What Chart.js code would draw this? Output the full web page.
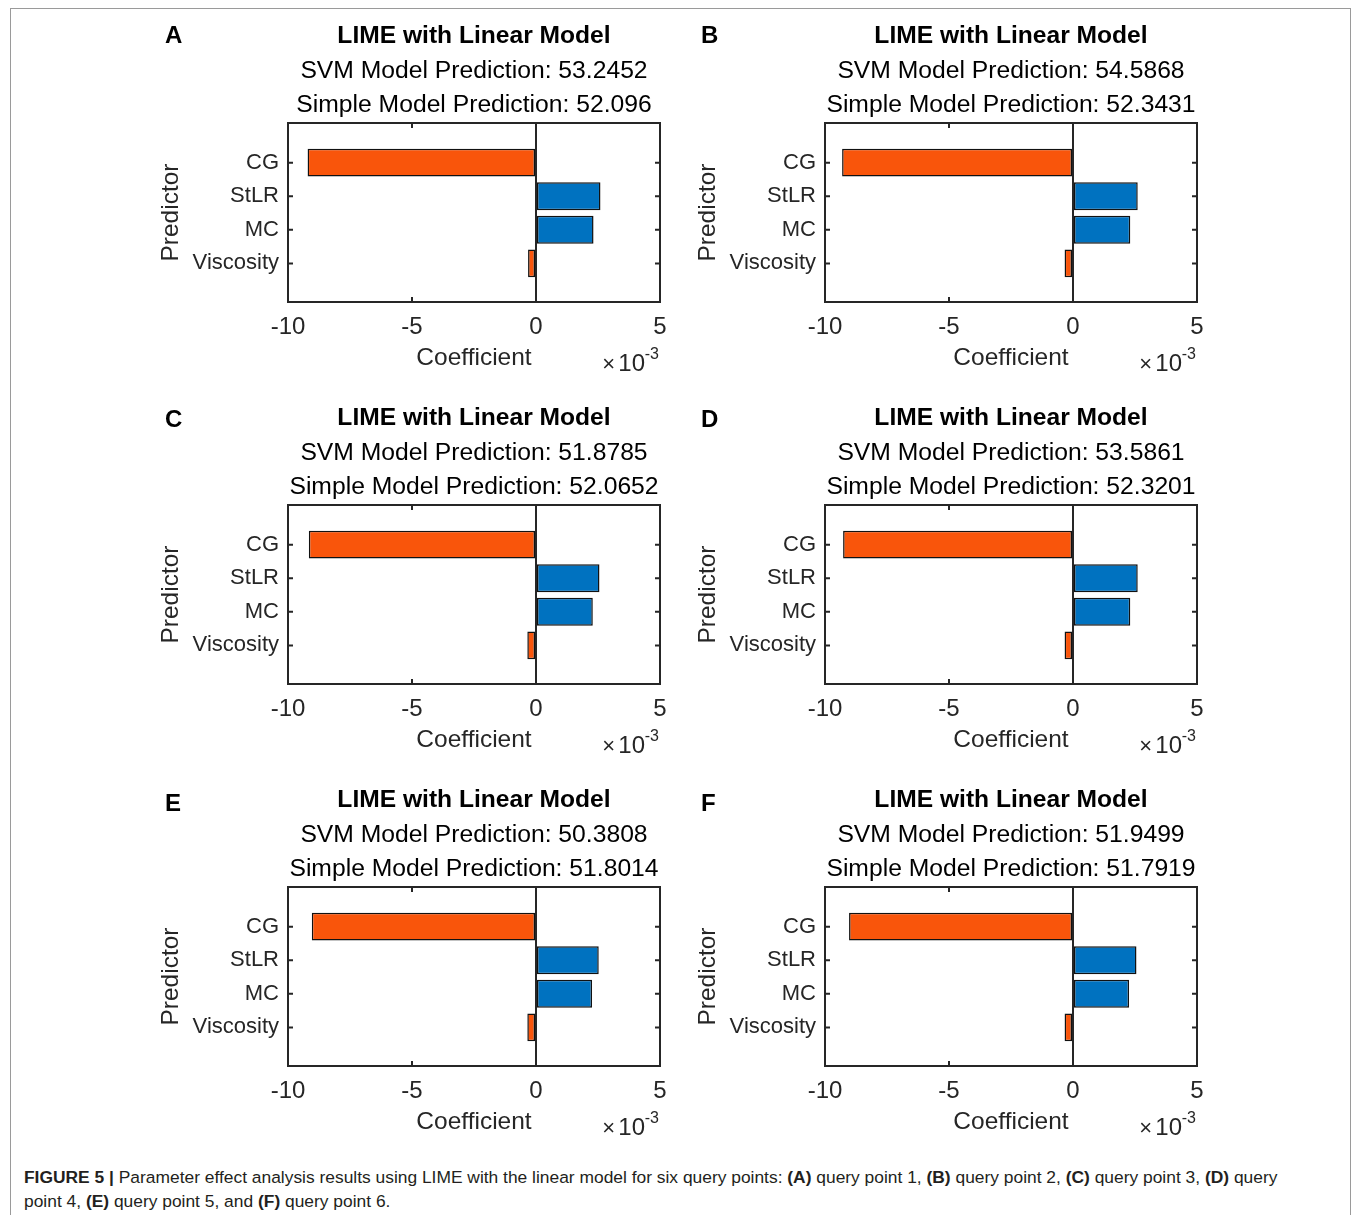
<!DOCTYPE html>
<html>
<head>
<meta charset="utf-8">
<script src="https://cdn.jsdelivr.net/npm/chart.js@4/dist/chart.umd.min.js"></script>
<style>
  body { margin: 0; background: #fff; width: 1356px; height: 1215px; position: relative; overflow: hidden; }
  #frame { position: absolute; left: 10px; top: 8px; width: 1341px; height: 1230px; border: 1px solid #9a9a9a; box-sizing: border-box; }
  .panel { position: absolute; width: 540px; height: 380px; }
  .letter { position: absolute; font: bold 24px 'Liberation Sans', Arial, sans-serif; color: #000; }
  #caption { position: absolute; left: 24px; top: 1165px; width: 1320px; font: 17.4px 'Liberation Sans', Arial, sans-serif; line-height: 24px; color: #231f20; }
</style>
</head>
<body>
<div id="frame"></div>
<div id="panels"></div>
<div id="caption"><b>FIGURE 5 |</b> Parameter effect analysis results using LIME with the linear model for six query points: <b>(A)</b> query point 1, <b>(B)</b> query point 2, <b>(C)</b> query point 3, <b>(D)</b> query<br>point 4, <b>(E)</b> query point 5, and <b>(F)</b> query point 6.</div>
<script>
// predictors (top to bottom) and x ticks, coefficients are in units of 1e-3
const predictors = ['CG', 'StLR', 'MC', 'Viscosity']
const xTicks = [-10, -5, 0, 5]
const panelLetters = ['A', 'B', 'C', 'D', 'E', 'F']
const svmPrediction = ['53.2452', '54.5868', '51.8785', '53.5861', '50.3808', '51.9499']
const simplePrediction = ['52.096', '52.3431', '52.0652', '52.3201', '51.8014', '51.7919']
const coefA = [-9.21, 2.60, 2.32, -0.32]
const coefB = [-9.31, 2.61, 2.31, -0.34]
const coefC = [-9.16, 2.56, 2.29, -0.35]
const coefD = [-9.27, 2.61, 2.31, -0.34]
const coefE = [-9.04, 2.53, 2.26, -0.35]
const coefF = [-9.03, 2.56, 2.26, -0.34]
const coefficients = [coefA, coefB, coefC, coefD, coefE, coefF]

const orange = '#f9550b'
const blue = '#0072c0'
const axisColor = '#262626'

Chart.defaults.font.family = "'Liberation Sans', Arial, sans-serif"
Chart.defaults.color = axisColor

// matlab style box with inward ticks and the x10^-3 exponent
const boxPlugin = {
      id: 'matlabBox',
      afterDraw(chart) {
            const {ctx, chartArea: a, scales} = chart
            ctx.save()
            ctx.strokeStyle = axisColor
            ctx.lineWidth = 2
            ctx.strokeRect(a.left, a.top, a.right - a.left, a.bottom - a.top)
            ctx.beginPath()
            scales.y.ticks.forEach(t => {
                  const y = scales.y.getPixelForValue(t.value)
                  ctx.moveTo(a.left, y); ctx.lineTo(a.left + 5, y)
                  ctx.moveTo(a.right, y); ctx.lineTo(a.right - 5, y)
            })
            scales.x.ticks.forEach(t => {
                  const x = scales.x.getPixelForValue(t.value)
                  ctx.moveTo(x, a.top); ctx.lineTo(x, a.top + 5)
                  ctx.moveTo(x, a.bottom); ctx.lineTo(x, a.bottom - 5)
            })
            ctx.stroke()
            ctx.fillStyle = axisColor
            ctx.textAlign = 'right'
            ctx.textBaseline = 'alphabetic'
            ctx.font = "16px 'Liberation Sans', Arial"
            ctx.fillText('-3', a.right - 1, a.bottom + 57)
            ctx.font = "24px 'Liberation Sans', Arial"
            ctx.fillText('10', a.right - 15, a.bottom + 69)
            ctx.font = "22px 'Liberation Sans', Arial"
            ctx.fillText('\u00d7', a.right - 45, a.bottom + 69)
            ctx.restore()
      }
}

const panelsDiv = document.getElementById('panels')

coefficients.forEach((coef, i) => {
      const col = i % 2
      const row = Math.floor(i / 2)
      const left = 145 + col * 537
      const top = 10 + row * 382

      const div = document.createElement('div')
      div.className = 'panel'
      div.style.left = left + 'px'
      div.style.top = top + 'px'
      const canvas = document.createElement('canvas')
      canvas.width = 540
      canvas.height = 380
      div.appendChild(canvas)
      panelsDiv.appendChild(div)

      const letter = document.createElement('div')
      letter.className = 'letter'
      letter.textContent = panelLetters[i]
      letter.style.left = (165 + col * 536) + 'px'
      letter.style.top = (21 + row * 384) + 'px'
      panelsDiv.appendChild(letter)

      new Chart(canvas, {
            type: 'bar',
            data: {
                  datasets: [{
                        data: coef.map((v, k) => ({x: v, y: k + 1})),
                        backgroundColor: c => c.raw.x < 0 ? orange : blue,
                        borderColor: '#111',
                        borderWidth: 1.5,
                        borderSkipped: false,
                        barPercentage: 0.83,
                        categoryPercentage: 1
                  }]
            },
            options: {
                  indexAxis: 'y',
                  responsive: false,
                  animation: false,
                  devicePixelRatio: 1,
                  layout: { padding: { left: 0, right: 25, top: 0, bottom: 0 } },
                  plugins: {
                        legend: { display: false },
                        tooltip: { enabled: false },
                        title: {
                              display: true,
                              fullSize: false,
                              text: 'LIME with Linear Model',
                              color: '#000',
                              font: { size: 24.6, weight: 'bold', lineHeight: '30px' },
                              padding: { top: 11, bottom: 0 }
                        },
                        subtitle: {
                              display: true,
                              fullSize: false,
                              text: ['SVM Model Prediction: ' + svmPrediction[i], 'Simple Model Prediction: ' + simplePrediction[i]],
                              color: '#000',
                              font: { size: 24.7, lineHeight: '34px' },
                              padding: { top: 3, bottom: 1 }
                        }
                  },
                  scales: {
                        x: {
                              type: 'linear',
                              min: -10,
                              max: 5,
                              afterBuildTicks: s => { s.ticks = xTicks.map(v => ({value: v})) },
                              afterFit: s => { s.height = 88 },
                              ticks: { font: { size: 24 }, padding: 11, color: axisColor, maxRotation: 0 },
                              grid: {
                                    drawTicks: false,
                                    color: c => c.tick && c.tick.value === 0 ? axisColor : 'transparent',
                                    lineWidth: 2
                              },
                              border: { display: false },
                              title: { display: true, text: 'Coefficient', font: { size: 24.5 }, color: axisColor, padding: { top: 0, bottom: 17 } }
                        },
                        y: {
                              type: 'linear',
                              reverse: true,
                              offset: false,
                              min: -0.18,
                              max: 5.15,
                              afterBuildTicks: s => { s.ticks = predictors.map((p, k) => ({value: k + 1})) },
                              afterFit: s => { s.width = 143 },
                              ticks: { font: { size: 22 }, padding: 9, color: axisColor, callback: v => predictors[v - 1] },
                              grid: { display: false, drawTicks: false, offset: false },
                              border: { display: false },
                              title: { display: true, text: 'Predictor', font: { size: 24.5 }, color: axisColor, padding: { top: 12, bottom: 0 } }
                        }
                  }
            },
            plugins: [boxPlugin]
      })
})
</script>
</body>
</html>
